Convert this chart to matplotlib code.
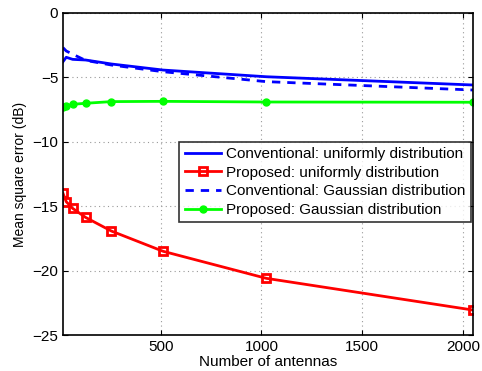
import matplotlib
matplotlib.use('Agg')
import matplotlib.pyplot as plt

plt.rcParams['font.family'] = ['Liberation Sans', 'DejaVu Sans']

antennas = [16, 32, 64, 128, 256, 512, 1024, 2048]
conv_uniform = [-3.78, -3.44, -3.6, -3.65, -3.96, -4.43, -4.95, -5.59]
prop_uniform = [-14.0, -14.65, -15.17, -15.87, -16.93, -18.5, -20.6, -23.06]
conv_gauss = [-2.69, -2.95, -3.2, -3.68, -4.04, -4.56, -5.33, -5.98]
prop_gauss = [-7.27, -7.22, -7.09, -7.01, -6.88, -6.86, -6.91, -6.93]

fig = plt.figure(figsize=(4.82, 3.71), dpi=100)
ax = fig.add_axes([0.1307, 0.097, 0.8503, 0.868])

ax.plot(antennas, conv_uniform, '-', color='#0000ff', lw=2,
        label='Conventional: uniformly distribution')
ax.plot(antennas, prop_uniform, '-s', color='#ff0000', lw=2, ms=5.5,
        mfc='none', mew=2, label='Proposed: uniformly distribution')
ax.plot(antennas, conv_gauss, '--', color='#0000ff', lw=2, dashes=(3, 2.5),
        label='Conventional: Gaussian distribution')
ax.plot(antennas, prop_gauss, '-o', color='#00ff00', lw=2, ms=5,
        label='Proposed: Gaussian distribution')

ax.set_xlim(16, 2048)
ax.set_ylim(-25, 0)
ax.set_xticks([500, 1000, 1500, 2000])
ax.set_yticks([-25, -20, -15, -10, -5, 0])
ax.grid(True, ls=(0, (1, 3)), color='#999999', lw=0.8)
ax.tick_params(direction='in', top=True, right=True, labelsize=11)
for s in ax.spines.values():
    s.set_linewidth(1.2)

ax.set_xlabel('Number of antennas', fontsize=11, labelpad=1)
ax.set_ylabel('Mean square error (dB)', fontsize=10, labelpad=4)

leg = ax.legend(loc='upper right', bbox_to_anchor=(0.995, 0.60), fontsize=11,
                frameon=True, fancybox=False, edgecolor='black',
                borderpad=0.35, labelspacing=0.3, handlelength=2.4,
                handletextpad=0.3, borderaxespad=0)
leg.get_frame().set_linewidth(1.2)

fig.savefig('out.png', dpi=100)
